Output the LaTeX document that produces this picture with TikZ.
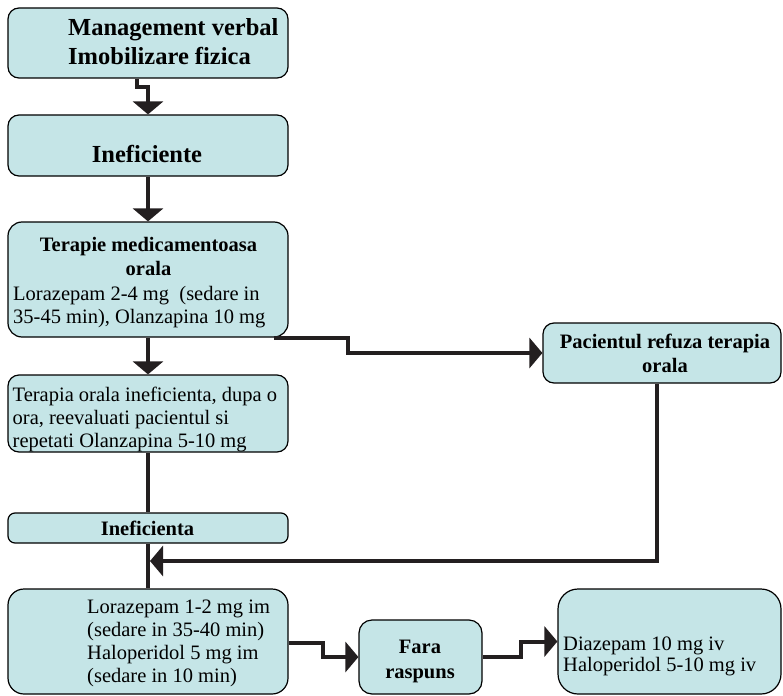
\documentclass[tikz,border=0pt]{standalone}
\usepackage{fontspec}
\setmainfont{Liberation Serif}
\usetikzlibrary{arrows.meta}
\definecolor{boxfill}{RGB}{197,229,231}
\definecolor{arrowc}{RGB}{35,31,32}
\tikzset{
  box/.style={draw=black, line width=1.2pt, fill=boxfill, rounded corners=11pt, rectangle, inner sep=0pt},
  conn/.style={draw=arrowc, line width=4pt},
  tipconn/.style={conn, -{Triangle[width=30pt,length=13pt]}},
  bigtxt/.style={font=\fontsize{24.5}{29}\selectfont\bfseries, inner sep=0pt},
  boldtxt/.style={font=\fontsize{20.5}{23.5}\selectfont\bfseries, inner sep=0pt},
  regtxt/.style={font=\fontsize{20.5}{22.7}\selectfont, inner sep=0pt},
}
\begin{document}
\begin{tikzpicture}[x=1pt,y=-1pt]
\useasboundingbox (0,0) rectangle (783,695);
% boxes
\node[box, minimum width=280pt, minimum height=70pt] (b1) at (148,43) {};
\node[box, minimum width=280pt, minimum height=61pt] (b2) at (148,145.5) {};
\node[box, minimum width=280pt, minimum height=115pt, rounded corners=14pt] (b3) at (148,279.5) {};
\node[box, minimum width=280pt, minimum height=77pt] (b4) at (148,413.5) {};
\node[box, minimum width=238pt, minimum height=60pt] (b5) at (662,353) {};
\node[box, minimum width=280pt, minimum height=30pt, rounded corners=7pt] (b6) at (148,528) {};
\node[box, minimum width=280pt, minimum height=105pt, rounded corners=16pt] (b7) at (148,641.5) {};
\node[box, minimum width=123pt, minimum height=74pt, rounded corners=13pt] (b8) at (420.5,657) {};
\node[box, minimum width=223pt, minimum height=105pt, rounded corners=20pt] (b9) at (669.5,641.5) {};
% texts (base anchor = baseline of the last line)
\node[bigtxt, anchor=base west, align=left] (t1) at (68,65) {Management verbal\\Imobilizare fizica};
\node[bigtxt, anchor=base] (t2) at (147,163) {Ineficiente};
\node[boldtxt, anchor=base, align=center] (t3a) at (148.5,275) {Terapie medicamentoasa\\orala};
\node[regtxt, anchor=base west, align=left] (t3b) at (13,323) {Lorazepam 2-4 mg\ \ (sedare in\\35-45 min), Olanzapina 10 mg};
\node[regtxt, anchor=base west, align=left] (t4) at (12.5,447) {Terapia orala ineficienta, dupa o\\ora, reevaluati pacientul si\\repetati Olanzapina 5-10 mg};
\node[boldtxt, anchor=base, align=center] (t5) at (665,372) {Pacientul refuza terapia\\orala};
\node[boldtxt, anchor=base] (t6) at (147.5,535) {Ineficienta};
\node[regtxt, anchor=base west, align=left, font=\fontsize{20.5}{23}\selectfont] (t7) at (87,682) {Lorazepam 1-2 mg im\\(sedare in 35-40 min)\\Haloperidol 5 mg im\\(sedare in 10 min)};
\node[boldtxt, anchor=base, align=center, font=\fontsize{20.5}{25}\selectfont\bfseries] (t8) at (420,678) {Fara\\raspuns};
\node[regtxt, anchor=base west, align=left, font=\fontsize{20.5}{21.5}\selectfont] (t9) at (563,671.5) {Diazepam 10 mg iv\\Haloperidol 5-10 mg iv};
% connectors
\draw[tipconn] ([xshift=-11pt]b1.south) -- ++(0,8) -| (b2.north);
\draw[tipconn] (b2.south) -- (b3.north);
\draw[tipconn] (b3.south) -- (b4.north);
\draw[tipconn] ([xshift=-15pt]b3.south east) -- ++(74,0) |- (b5.west);
\coordinate (m) at (150,561);
\draw[tipconn] ([xshift=-5pt]b5.south) |- (m);
\draw[conn] (b4.south) -- (b6.north);
\draw[conn] (b6.south) -- (b7.north);
\draw[tipconn] ([yshift=-1.5pt]b7.east) -- ++(34,0) |- (b8.west);
\draw[tipconn] (b8.east) -- ++(38,0) |- (b9.west);
\end{tikzpicture}
\end{document}
